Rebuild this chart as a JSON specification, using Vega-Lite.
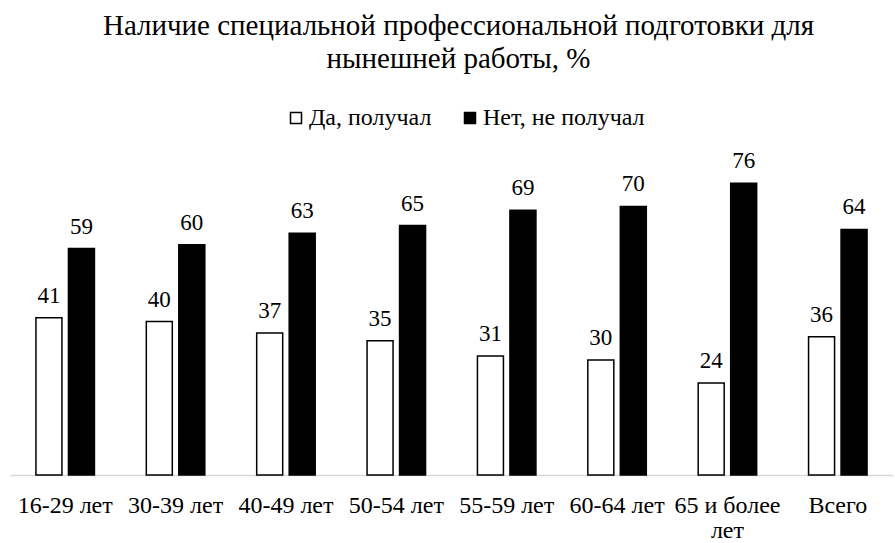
{
  "$schema": "https://vega.github.io/schema/vega-lite/v6.json",
  "width": 883,
  "height": 307,
  "autosize": "none",
  "padding": {"left": 10, "top": 168, "right": 2, "bottom": 68},
  "background": "white",
  "title": {
    "text": ["Наличие специальной профессиональной подготовки для", "нынешней работы, %"],
    "font": "Liberation Serif",
    "fontSize": 29,
    "fontWeight": "normal",
    "color": "black",
    "anchor": "middle",
    "lineHeight": 33,
    "offset": 32,
    "dx": 7
  },
  "data": {
    "values": [
      {"group": "16-29 лет", "answer": "Да, получал", "value": 41},
      {"group": "16-29 лет", "answer": "Нет, не получал", "value": 59},
      {"group": "30-39 лет", "answer": "Да, получал", "value": 40},
      {"group": "30-39 лет", "answer": "Нет, не получал", "value": 60},
      {"group": "40-49 лет", "answer": "Да, получал", "value": 37},
      {"group": "40-49 лет", "answer": "Нет, не получал", "value": 63},
      {"group": "50-54 лет", "answer": "Да, получал", "value": 35},
      {"group": "50-54 лет", "answer": "Нет, не получал", "value": 65},
      {"group": "55-59 лет", "answer": "Да, получал", "value": 31},
      {"group": "55-59 лет", "answer": "Нет, не получал", "value": 69},
      {"group": "60-64 лет", "answer": "Да, получал", "value": 30},
      {"group": "60-64 лет", "answer": "Нет, не получал", "value": 70},
      {"group": "65 и более лет", "answer": "Да, получал", "value": 24},
      {"group": "65 и более лет", "answer": "Нет, не получал", "value": 76},
      {"group": "Всего", "answer": "Да, получал", "value": 36},
      {"group": "Всего", "answer": "Нет, не получал", "value": 64}
    ]
  },
  "encoding": {
    "x": {
      "field": "group",
      "type": "nominal",
      "sort": null,
      "scale": {"paddingInner": 0.47, "paddingOuter": 0.235},
      "axis": {
        "title": null,
        "labelAngle": 0,
        "labelFont": "Liberation Serif",
        "labelFontSize": 24,
        "labelColor": "black",
        "labelPadding": 18,
        "labelLineHeight": 25,
        "ticks": false,
        "domainColor": "#d9d9d9",
        "domainWidth": 1.5,
        "labelExpr": "datum.value == '65 и более лет' ? ['65 и более', 'лет'] : datum.value"
      }
    },
    "xOffset": {
      "field": "answer",
      "type": "nominal",
      "scale": {"paddingInner": 0.2}
    },
    "y": {
      "field": "value",
      "type": "quantitative",
      "scale": {"domain": [0, 80]},
      "axis": null
    }
  },
  "layer": [
    {
      "mark": {"type": "bar", "stroke": "black", "strokeWidth": 1.5},
      "encoding": {
        "fill": {
          "field": "answer",
          "type": "nominal",
          "scale": {"domain": ["Да, получал", "Нет, не получал"], "range": ["white", "black"]},
          "legend": {
            "title": null,
            "orient": "none",
            "legendX": 274,
            "legendY": -62,
            "padding": 0,
            "direction": "horizontal",
            "symbolType": "square",
            "symbolSize": 121,
            "symbolStrokeColor": "black",
            "symbolStrokeWidth": 1.5,
            "labelFont": "Liberation Serif",
            "labelFontSize": 24,
            "labelColor": "black",
            "labelLimit": 400,
            "columnPadding": 26,
            "labelOffset": 1
          }
        }
      }
    },
    {
      "mark": {"type": "text", "baseline": "alphabetic", "dy": -15, "font": "Liberation Serif", "fontSize": 23, "color": "black"},
      "encoding": {
        "text": {"field": "value", "type": "quantitative"}
      }
    }
  ],
  "config": {"view": {"stroke": null}}
}
